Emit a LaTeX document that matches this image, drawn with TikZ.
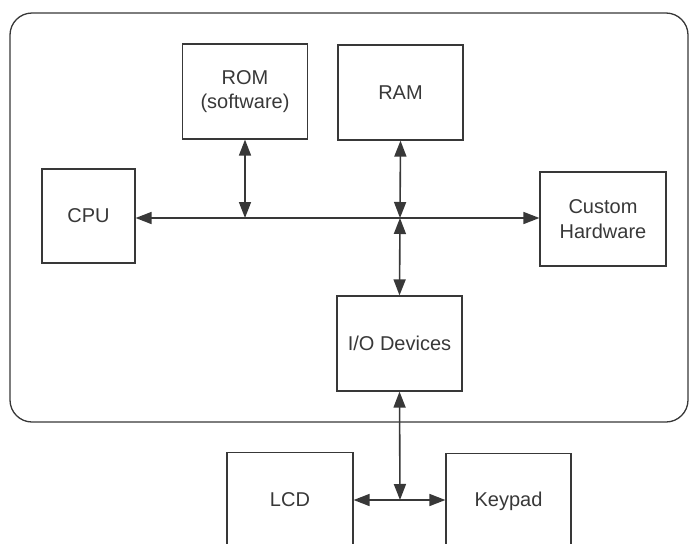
\documentclass[tikz,border=0pt]{standalone}
\usepackage{fontspec}
\setmainfont{Liberation Sans}
\usetikzlibrary{arrows.meta}
\definecolor{ink}{HTML}{383838}
\tikzset{
  blk/.style={draw=ink, line width=1.2pt, rectangle, minimum width=125pt, minimum height=95pt,
    inner sep=0pt, align=center, font=\fontsize{20}{24.5}\selectfont, text=ink},
  link/.style={draw=ink, line width=1.6pt, {Triangle[length=16pt,width=12pt]}-{Triangle[length=16pt,width=12pt]}},
  frame/.style={draw=ink, line width=1.3pt, rounded corners=22pt}
}
\begin{document}
\begin{tikzpicture}[x=1pt,y=-1pt]
\useasboundingbox (0,0) rectangle (689,544);
\clip (0,0) rectangle (689,544);
\draw[frame] (10,13) rectangle (688,422);
\node[blk] (rom) at (245,91.5) {ROM\\(software)};
\node[blk] (ram) at (400.5,92.5) {RAM};
\node[blk, minimum width=93pt, minimum height=94pt] (cpu) at (88.5,216) {CPU};
\node[blk, minimum width=126pt, minimum height=94pt] (hw) at (603,219) {Custom\\Hardware};
\node[blk] (io) at (399.5,343.5) {I/O Devices};
\node[blk, minimum width=126pt] (lcd) at (290,500) {LCD};
\node[blk, minimum width=125pt] (key) at (508.5,501) {Keypad};
\coordinate (jrom) at (245,218);
\coordinate (jram) at (400,218);
\coordinate (jlow) at (400,500);
\draw[link] (cpu.east |- jrom) -- (hw.west |- jrom);
\draw[link] (rom.south) -- (jrom);
\draw[link] (ram.south) -- (jram);
\draw[link] (jram) -- (io.north);
\draw[link] (io.south) -- (jlow);
\draw[link] (lcd.east |- jlow) -- (key.west |- jlow);
\end{tikzpicture}
\end{document}
